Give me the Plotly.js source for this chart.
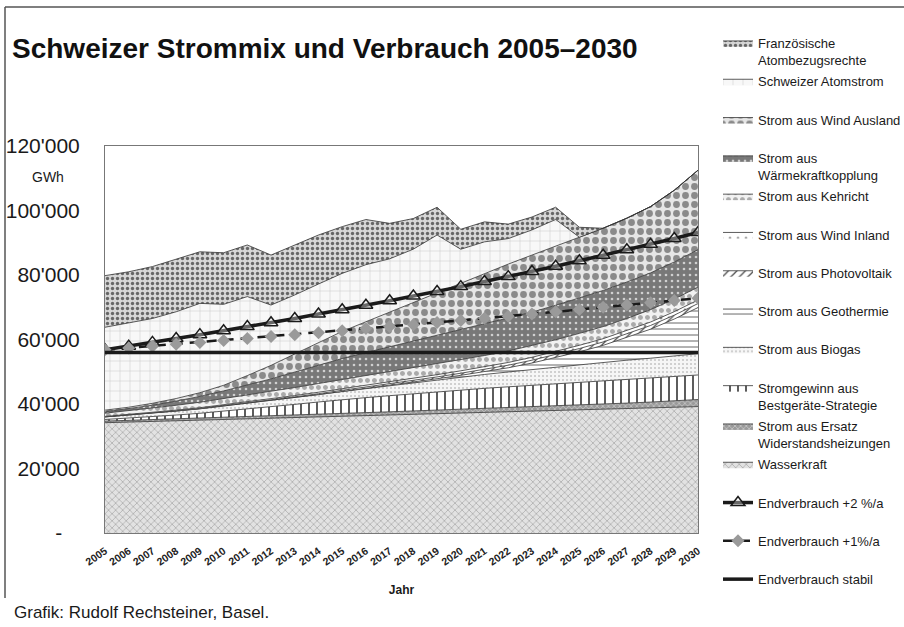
<!DOCTYPE html>
<html>
<head>
<meta charset="utf-8">
<script src="https://cdn.plot.ly/plotly-3.0.1.min.js"></script>
<style>html,body{margin:0;padding:0;background:#fff;}#chart{width:904px;height:627px;}</style>
</head>
<body>
<div id="chart"></div>
<script>
var years = [2005,2006,2007,2008,2009,2010,2011,2012,2013,2014,2015,2016,2017,2018,2019,2020,2021,2022,2023,2024,2025,2026,2027,2028,2029,2030];
var yearLabels = ["2005","2006","2007","2008","2009","2010","2011","2012","2013","2014","2015","2016","2017","2018","2019","2020","2021","2022","2023","2024","2025","2026","2027","2028","2029","2030"];

var wasserkraft = [34200,34400,34600,34800,35000,35200,35400,35600,35800,36000,36200,36400,36600,36800,37000,37200,37400,37600,37800,38000,38200,38400,38600,38800,39000,39200];
var ersatzHeizungen = [500,520,550,580,620,660,700,740,780,830,880,930,980,1030,1090,1150,1210,1280,1350,1420,1500,1580,1680,1800,1950,2200];
var bestgeraete = [500,700,950,1200,1500,1900,2350,2800,3300,3800,4300,4650,5000,5350,5700,6000,6250,6450,6650,6850,7000,7150,7300,7400,7500,7600];
var biogas = [800,950,1100,1250,1400,1600,1750,1900,2100,2300,2500,2800,3100,3400,3700,4000,4300,4600,4900,5200,5500,5750,6000,6200,6400,6600];
var geothermie = [0,0,0,0,0,0,0,0,0,0,0,50,100,200,350,550,850,1300,2000,2900,4000,5300,7000,9000,11500,14300];
var photovoltaik = [50,60,70,90,110,130,160,190,230,270,320,370,430,490,560,640,720,800,880,950,1000,1050,1100,1150,1200,1250];
var windInland = [100,120,150,180,220,260,300,350,400,450,500,550,600,650,700,750,800,850,900,950,1000,1020,1040,1060,1080,1100];
var kehricht = [1000,1150,1300,1500,1700,1900,2100,2300,2500,2700,2900,3000,3100,3200,3300,3400,3500,3550,3600,3650,3700,3750,3800,3850,3900,4000];
var waermekraft = [400,600,900,1300,1800,2400,3100,3900,4800,5700,6500,7200,7800,8400,8900,9400,9800,10100,10400,10700,11000,11200,11300,11400,11500,11600];
var windAusland = [550,500,600,800,1150,1750,2950,4200,5600,6950,8400,9550,10800,11900,13000,14400,15650,16850,17700,18400,18800,19300,19800,20550,22250,24650];
var atomSchweiz = [25700,26200,26300,26900,27700,25100,24500,18700,18300,18200,18000,17700,16500,16600,18100,10500,9800,7900,7800,8200,0,0,0,0,0,0];
var atomFrankreich = [16000,15800,16100,16300,16000,16000,16000,15500,15500,15200,14500,14000,11000,9500,8600,6200,6200,4500,4000,3800,3100,0,0,0,0,0];

var verbrauchPlus2 = [56800,57900,59100,60300,61500,62700,64000,65200,66500,67900,69200,70600,72000,73500,74900,76400,78000,79500,81100,82700,84400,86100,87800,89500,91300,93200];
var verbrauchPlus1 = [56800,57400,57900,58500,59100,59700,60300,60900,61500,62100,62700,63400,64000,64600,65300,65900,66600,67200,67900,68600,69300,70000,70700,71400,72100,72800];
var verbrauchStabil = [56000,56000,56000,56000,56000,56000,56000,56000,56000,56000,56000,56000,56000,56000,56000,56000,56000,56000,56000,56000,56000,56000,56000,56000,56000,56000];

var yTickVals = [0,20000,40000,60000,80000,100000,120000];
var yTickText = ["-\u00a0\u00a0\u00a0","20'000","40'000","60'000","80'000","100'000","120'000"];

function area(name, vals, rank, pat) {
  return {
    x: years, y: vals, name: name, type: 'scatter', mode: 'lines',
    stackgroup: 'mix', legendgroup: 'g' + rank, legendrank: rank,
    line: {color: '#333', width: 0.8},
    fillpattern: pat, fillcolor: pat.bgcolor,
    hoverinfo: 'skip'
  };
}

var traces = [
  area('Wasserkraft<br> ', wasserkraft, 12, {shape:'x', bgcolor:'#e2e2e2', fgcolor:'#b0b0b0', size:5, solidity:0.3}),
  area('Strom aus Ersatz<br>Widerstandsheizungen', ersatzHeizungen, 11, {shape:'x', bgcolor:'#9a9a9a', fgcolor:'#d0d0d0', size:4, solidity:0.3}),
  area('Stromgewinn aus<br>Bestgeräte-Strategie', bestgeraete, 10, {shape:'|', bgcolor:'#ffffff', fgcolor:'#333', size:8, solidity:0.2}),
  area('Strom aus Biogas<br> ', biogas, 9, {shape:'.', bgcolor:'#f6f6f6', fgcolor:'#c4c4c4', size:4, solidity:0.2}),
  area('Strom aus Geothermie<br> ', geothermie, 8, {shape:'-', bgcolor:'#ffffff', fgcolor:'#555', size:6, solidity:0.15}),
  area('Strom aus Photovoltaik<br> ', photovoltaik, 7, {shape:'/', bgcolor:'#ffffff', fgcolor:'#444', size:6, solidity:0.2}),
  area('Strom aus Wind Inland<br> ', windInland, 6, {shape:'.', bgcolor:'#ffffff', fgcolor:'#888', size:8, solidity:0.1}),
  area('Strom aus Kehricht<br> ', kehricht, 5, {shape:'.', bgcolor:'#f2f2f2', fgcolor:'#aaa', size:7, solidity:0.4}),
  area('Strom aus<br>Wärmekraftkopplung', waermekraft, 4, {shape:'.', bgcolor:'#787878', fgcolor:'#d0d0d0', size:6, solidity:0.15}),
  area('Strom aus Wind Ausland<br> ', windAusland, 3, {shape:'.', bgcolor:'#e6e6e6', fgcolor:'#8a8a8a', size:9, solidity:0.45}),
  area('Schweizer Atomstrom<br> ', atomSchweiz, 2, {shape:'+', bgcolor:'#f8f8f8', fgcolor:'#c0c0c0', size:10, solidity:0.08}),
  area('Französische<br>Atombezugsrechte', atomFrankreich, 1, {shape:'.', bgcolor:'#d6d6d6', fgcolor:'#666', size:5, solidity:0.35}),
  {x: years, y: verbrauchPlus2, name: 'Endverbrauch +2 %/a<br> ', type:'scatter', mode:'lines+markers',
   legendgroup:'g13', legendrank:13, hoverinfo:'skip',
   line:{color:'#1a1a1a', width:3.5},
   marker:{symbol:'triangle-up', size:12, color:'rgba(255,255,255,0.35)', line:{color:'#1a1a1a', width:1.5}}},
  {x: years, y: verbrauchPlus1, name: 'Endverbrauch +1%/a<br> ', type:'scatter', mode:'lines+markers',
   legendgroup:'g14', legendrank:14, hoverinfo:'skip',
   line:{color:'#1a1a1a', width:2.5, dash:'10px,7px'},
   marker:{symbol:'diamond', size:10, color:'#9a9a9a', line:{width:0}}},
  {x: years, y: verbrauchStabil, name: 'Endverbrauch stabil<br> ', type:'scatter', mode:'lines',
   legendgroup:'g15', legendrank:15, hoverinfo:'skip',
   line:{color:'#1a1a1a', width:3.5}}
];

var layout = {
  width: 904, height: 627,
  margin: {l:105, r:206, t:146, b:94, pad:0},
  paper_bgcolor: '#ffffff', plot_bgcolor: '#ffffff',
  font: {family: 'Liberation Sans, Arial, sans-serif', color: '#1a1a1a'},
  title: {text: 'Schweizer Strommix und Verbrauch 2005–2030', xref:'container', yref:'container',
          x: 12/904, xanchor:'left', y: 1-48/627, yanchor:'middle',
          font:{size:28, weight:700, color:'#111'}},
  showlegend: true,
  legend: {xref:'container', yref:'container', x: 718/904, xanchor:'left', y: 1-28/627, yanchor:'top', valign:'top',
           font:{size:13, color:'#1a1a1a'}, tracegroupgap:1.5, itemwidth:30, maxheight:615,
           bgcolor:'rgba(0,0,0,0)', borderwidth:0},
  hovermode: false,
  xaxis: {range:[2005,2030], tickvals: years, ticktext: yearLabels, tickangle:-35, automargin:false,
          tickfont:{size:10.5, weight:700, color:'#222'}, ticks:'', showgrid:false, zeroline:false,
          showline:true, mirror:true, linecolor:'#777', linewidth:1, ticklabelstandoff:7,
          title:{text:'Jahr', font:{size:12, weight:700}, standoff:18}},
  yaxis: {range:[0,120000], tickvals: yTickVals, ticktext: yTickText, automargin:false,
          tickfont:{size:21, color:'#1a1a1a'}, ticks:'', showgrid:false, zeroline:false,
          showline:true, mirror:true, linecolor:'#777', linewidth:1, ticklabelstandoff:20},
  annotations: [
    {text:'GWh', xref:'paper', yref:'paper', x:(48-105)/593, y:(533-177)/387, showarrow:false,
     xanchor:'center', yanchor:'middle', font:{size:14, color:'#1a1a1a'}},
    {text:'Grafik: Rudolf Rechsteiner, Basel.', xref:'paper', yref:'paper', x:(12-105)/593, y:(533-612)/387,
     showarrow:false, xanchor:'left', yanchor:'middle', font:{size:17, color:'#1a1a1a'}}
  ],
  shapes: [
    {type:'line', xref:'paper', yref:'paper', x0:(5-105)/593, x1:(904-105)/593, y0:(533-7)/387, y1:(533-7)/387, line:{color:'#555', width:1.5}},
    {type:'line', xref:'paper', yref:'paper', x0:(5-105)/593, x1:(5-105)/593, y0:(533-7)/387, y1:(533-598)/387, line:{color:'#555', width:1.5}}
  ]
};

Plotly.newPlot('chart', traces, layout, {displayModeBar:false, staticPlot:true});
</script>
</body>
</html>
